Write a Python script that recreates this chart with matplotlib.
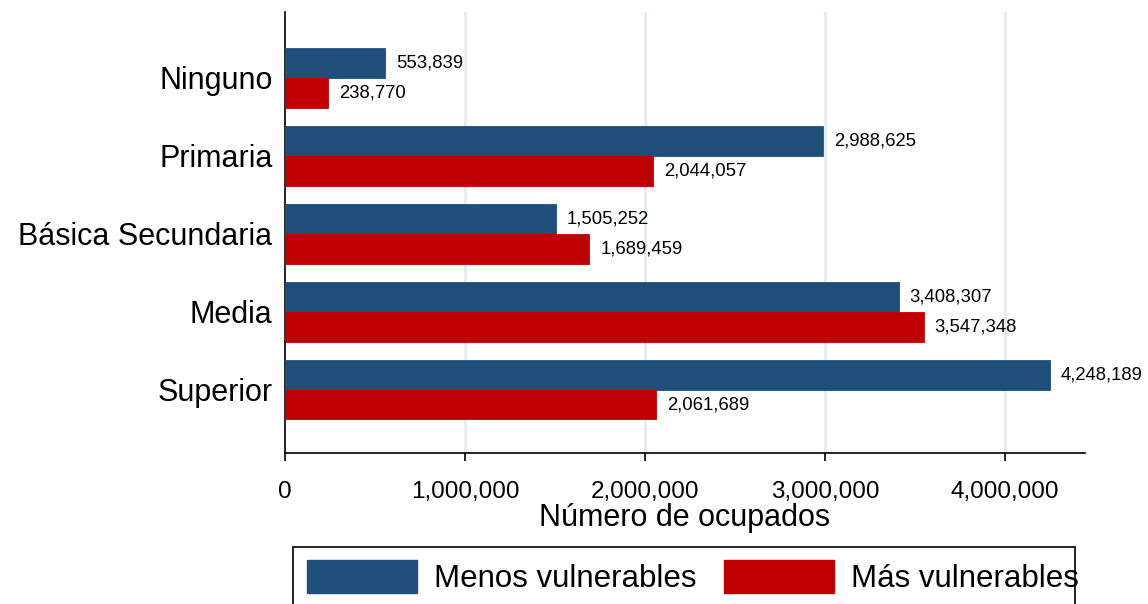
import matplotlib

matplotlib.use("Agg")
import matplotlib.pyplot as plt
from matplotlib.patches import Patch, Rectangle
from matplotlib.ticker import FuncFormatter

# Data
categories = ["Ninguno", "Primaria", "Básica Secundaria", "Media", "Superior"]
menos_vulnerables = [553839, 2988625, 1505252, 3408307, 4248189]
mas_vulnerables = [238770, 2044057, 1689459, 3547348, 2061689]
series_labels = ["Menos vulnerables", "Más vulnerables"]
x_ticks = [0, 1000000, 2000000, 3000000, 4000000]

BLUE = "#1f4e79"
RED = "#c00000"
GRID = "#e4eef0"

plt.rcParams["font.family"] = ["Liberation Sans", "DejaVu Sans"]


def thousands(v, _pos=None):
    return f"{int(round(v)):,}"


def main():
    W, H = 1148, 604
    fig = plt.figure(figsize=(W / 100, H / 100), dpi=100)
    ax = fig.add_axes([285 / W, 1 - 453 / H, 800 / W, 441 / H])

    n = len(categories)
    pos = [n - 1 - i for i in range(n)]
    h = 0.38

    blue_y = [p + h / 2 for p in pos]
    red_y = [p - h / 2 for p in pos]
    ax.barh(blue_y, menos_vulnerables, height=h, color=BLUE, edgecolor=BLUE,
            linewidth=0.6, zorder=3)
    ax.barh(red_y, mas_vulnerables, height=h, color=RED, edgecolor=RED,
            linewidth=0.6, zorder=3)

    for y, v in zip(blue_y, menos_vulnerables):
        ax.annotate(thousands(v), (v, y), xytext=(8, 0), textcoords="offset points",
                    va="center", ha="left", fontsize=13.3, clip_on=False)
    for y, v in zip(red_y, mas_vulnerables):
        ax.annotate(thousands(v), (v, y), xytext=(8, 0), textcoords="offset points",
                    va="center", ha="left", fontsize=13.3, clip_on=False)

    ax.set_xlim(0, 4444000)
    ax.set_ylim(-0.81, n - 1 + 0.846)
    ax.set_xticks(x_ticks)
    ax.xaxis.set_major_formatter(FuncFormatter(thousands))
    ax.set_yticks(pos)
    ax.set_yticklabels(categories)

    for t in x_ticks[1:]:
        ax.axvline(t, color=GRID, linewidth=2.2, zorder=1)

    for side in ("top", "right"):
        ax.spines[side].set_visible(False)
    ax.spines["left"].set_linewidth(1.2)
    ax.spines["bottom"].set_linewidth(1.2)

    ax.tick_params(axis="x", length=6, width=1.2, labelsize=17.5, pad=14)
    ax.tick_params(axis="y", length=0, labelsize=22, pad=9)
    ax.set_xlabel("Número de ocupados", fontsize=22, labelpad=0)

    # legend box (drawn by hand so its padding matches the reference)
    fig.patches.append(Rectangle((293 / W, -0.05), (1075 - 293) / W, 0.05 + 1 - 547 / H,
                                 transform=fig.transFigure, facecolor="none",
                                 edgecolor="black", linewidth=1.2))
    handles = [Patch(facecolor=BLUE, edgecolor=BLUE), Patch(facecolor=RED, edgecolor=RED)]
    fig.legend(handles, series_labels, loc="center left",
               bbox_to_anchor=(301 / W, 1 - 577 / H), ncol=2,
               fontsize=22.5, frameon=False,
               handlelength=3.5, handleheight=1.25, handletextpad=0.55,
               columnspacing=0.9, borderpad=0.2, borderaxespad=0)

    fig.savefig("out.png", dpi=100)
    plt.close(fig)


if __name__ == "__main__":
    main()
